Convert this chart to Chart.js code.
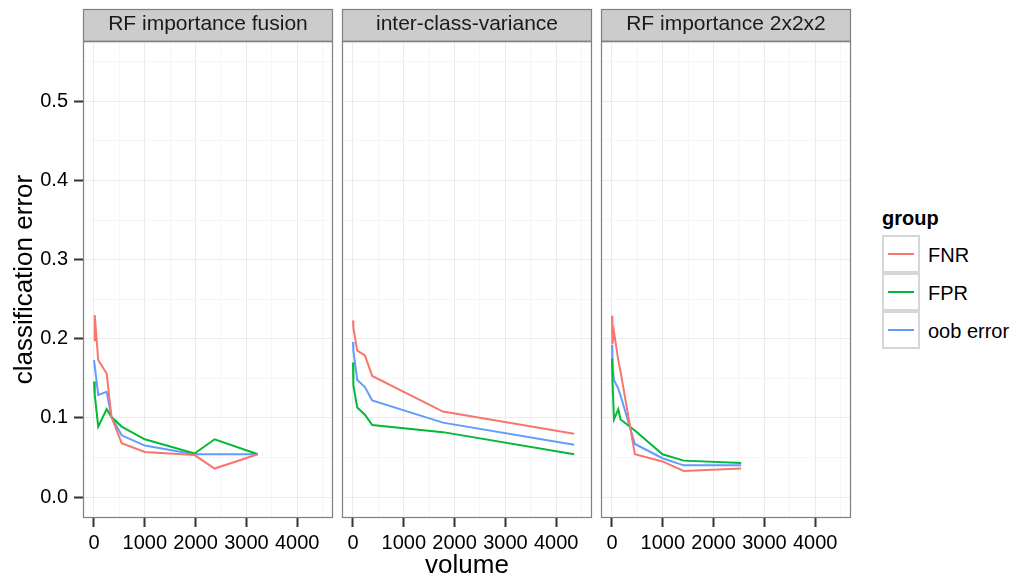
<!DOCTYPE html>
<html>
<head>
<meta charset="utf-8">
<script src="https://cdn.jsdelivr.net/npm/chart.js@4.4.0/dist/chart.umd.min.js"></script>
<style>
  body { margin: 0; background: #fff; font-family: "Liberation Sans", Arial, sans-serif; }
  #wrap { position: relative; width: 1014px; height: 581px; overflow: hidden; }
  canvas { position: absolute; top: 0; }
  #legend { position: absolute; left: 882px; top: 205px; color: #000; }
  #legend .lt { font-weight: bold; font-size: 20px; height: 31px; line-height: 26px; }
  #legend .row { display: flex; align-items: center; height: 38px; }
  #legend .key { width: 34px; height: 34px; border: 2px solid #d6d6d6; margin-top: -2px; position: relative; background: #fff; }
  #legend .key span { position: absolute; left: 4px; right: 4px; top: 16px; height: 2px; }
  #legend .lab { font-size: 20px; margin-left: 8px; }
</style>
</head>
<body>
<div id="wrap">
  <canvas id="p0" width="337" height="581" style="left:0px"></canvas>
  <canvas id="p1" width="259" height="581" style="left:337px"></canvas>
  <canvas id="p2" width="259" height="581" style="left:596px"></canvas>
  <div id="legend"></div>
</div>
<script>
// facet panels and series
const panelTitles = ['RF importance fusion', 'inter-class-variance', 'RF importance 2x2x2'];
const seriesNames = ['FNR', 'FPR', 'oob error'];
const xTickLabels = [0, 1000, 2000, 3000, 4000];
const yTickLabels = [0.0, 0.1, 0.2, 0.3, 0.4, 0.5];

// RF importance fusion
const volFusion = [1, 15, 84, 250, 345, 545, 1000, 1980, 2375, 3225];
const fnrFusion = [0.198, 0.230, 0.173, 0.156, 0.101, 0.068, 0.057, 0.053, 0.036, 0.054];
const fprFusion = [0.146, 0.129, 0.089, 0.111, 0.101, 0.089, 0.073, 0.055, 0.073, 0.054];
const oobFusion = [0.173, 0.173, 0.129, 0.133, 0.101, 0.078, 0.065, 0.054, 0.054, 0.054];

// inter-class-variance
const volIcv = [1, 8, 84, 235, 378, 1771, 4353];
const fnrIcv = [0.223, 0.214, 0.185, 0.179, 0.153, 0.108, 0.080];
const fprIcv = [0.170, 0.141, 0.113, 0.104, 0.091, 0.082, 0.054];
const oobIcv = [0.196, 0.185, 0.148, 0.139, 0.122, 0.094, 0.066];

// RF importance 2x2x2
const vol222 = [1, 8, 39, 124, 170, 451, 994, 1412, 2543];
const fnr222 = [0.229, 0.193, 0.209, 0.173, 0.158, 0.054, 0.045, 0.033, 0.036];
const fpr222 = [0.175, 0.151, 0.098, 0.111, 0.098, 0.084, 0.054, 0.046, 0.043];
const oob222 = [0.192, 0.170, 0.148, 0.137, 0.128, 0.067, 0.049, 0.040, 0.040];

const panelVolumes = [volFusion, volIcv, vol222];
const panelSeries = [
  [fnrFusion, fprFusion, oobFusion],
  [fnrIcv, fprIcv, oobIcv],
  [fnr222, fpr222, oob222]
];

const colors = ['#F8766D', '#00BA38', '#619CFF'];
const X_MIN = -216, X_MAX = 4705;
const Y_MIN = -0.0265, Y_MAX = 0.576;
const FONT = '"Liberation Sans", Arial, sans-serif';

const near = (v, list) => list.some(t => Math.abs(t - v) < 1e-9);

// major ticks plus a minor line halfway between each pair (ggplot style)
function withMinor(major) {
  const out = [];
  const step = major[1] - major[0];
  major.forEach(v => { out.push(v); out.push(+(v + step / 2).toFixed(6)); });
  return out;
}
const xGridValues = withMinor(xTickLabels);
const yGridValues = withMinor(yTickLabels);

// ggplot style strip and panel border
const facetPlugin = {
  id: 'facet',
  beforeDraw(chart) {
    const a = chart.chartArea, c = chart.ctx;
    c.save();
    c.fillStyle = '#cccccc';
    c.fillRect(a.left, 9, a.right - a.left, a.top - 9);
    c.strokeStyle = '#7f7f7f';
    c.lineWidth = 1.2;
    c.strokeRect(a.left + 0.5, 9.5, a.right - a.left - 1, a.top - 9.5);
    c.restore();
  },
  afterDraw(chart) {
    const a = chart.chartArea, c = chart.ctx;
    c.save();
    c.strokeStyle = '#7f7f7f';
    c.lineWidth = 1.2;
    c.strokeRect(a.left + 0.5, a.top + 0.5, a.right - a.left - 1, a.bottom - a.top - 1);
    c.restore();
  }
};

function makePanel(i) {
  const first = i === 0, mid = i === 1;
  const datasets = seriesNames.map((name, s) => ({
    label: name,
    data: panelVolumes[i].map((v, k) => ({ x: v, y: panelSeries[i][s][k] })),
    borderColor: colors[s],
    backgroundColor: colors[s],
    borderWidth: 2,
    pointRadius: 0,
    tension: 0
  }));

  const xMajor = ctx => ctx.tick && near(ctx.tick.value, xTickLabels);
  const yMajor = ctx => ctx.tick && near(ctx.tick.value, yTickLabels);

  new Chart(document.getElementById('p' + i), {
    type: 'line',
    data: { datasets },
    options: {
      responsive: false,
      animation: false,
      layout: { padding: { left: first ? 0 : 5, right: 4, top: 0, bottom: 0 } },
      plugins: {
        legend: { display: false },
        tooltip: { enabled: false },
        title: {
          display: true,
          text: panelTitles[i],
          fullSize: false,
          color: '#1a1a1a',
          font: { family: FONT, size: 21, weight: 'normal' },
          padding: { top: 12, bottom: 4 }
        }
      },
      scales: {
        x: {
          type: 'linear',
          min: X_MIN,
          max: X_MAX,
          afterBuildTicks: s => { s.ticks = xGridValues.filter(v => v <= X_MAX).map(v => ({ value: v })); },
          border: { display: false },
          grid: {
            color: ctx => xMajor(ctx) ? '#ebebeb' : '#f6f6f6',
            lineWidth: 1,
            tickLength: 9,
            tickWidth: 2,
            tickColor: ctx => xMajor(ctx) ? '#333333' : 'rgba(0,0,0,0)'
          },
          ticks: {
            autoSkip: false,
            maxRotation: 0,
            minRotation: 0,
            padding: 4,
            color: '#000',
            font: { family: FONT, size: 20 },
            callback: v => near(v, xTickLabels) ? String(v) : ''
          },
          title: {
            display: mid,
            text: 'volume',
            color: '#000',
            font: { family: FONT, size: 26 },
            padding: { top: 0, bottom: 0 }
          },
          afterFit: s => { s.height = 63; }
        },
        y: {
          min: Y_MIN,
          max: Y_MAX,
          afterBuildTicks: s => { s.ticks = yGridValues.filter(v => v <= Y_MAX).map(v => ({ value: v })); },
          border: { display: false },
          grid: {
            color: ctx => yMajor(ctx) ? '#ebebeb' : '#f6f6f6',
            lineWidth: 1,
            drawTicks: first,
            tickLength: 9,
            tickWidth: 2,
            tickColor: ctx => yMajor(ctx) ? '#333333' : 'rgba(0,0,0,0)'
          },
          ticks: {
            display: first,
            autoSkip: false,
            padding: 6,
            color: '#000',
            font: { family: FONT, size: 20 },
            callback: v => near(v, yTickLabels) ? v.toFixed(1) : ''
          },
          title: {
            display: first,
            text: 'classification error',
            color: '#000',
            font: { family: FONT, size: 26 },
            padding: { top: 9, bottom: 0 }
          },
          afterFit: s => { s.width = first ? 83 : 0; }
        }
      }
    },
    plugins: [facetPlugin]
  });
}

panelTitles.forEach((t, i) => makePanel(i));

// legend
const lg = document.getElementById('legend');
lg.innerHTML = '<div class="lt">group</div>' + seriesNames.map((n, s) =>
  '<div class="row"><div class="key"><span style="background:' + colors[s] + '"></span></div>' +
  '<div class="lab">' + n + '</div></div>').join('');
</script>
</body>
</html>
